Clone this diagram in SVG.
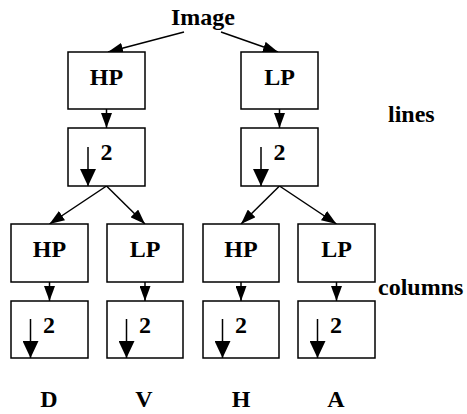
<svg xmlns="http://www.w3.org/2000/svg" width="467" height="414" viewBox="0 0 467 414">
  <style>
    .box { fill: #fff; stroke: #000; stroke-width: 1.5; }
    .lbl { font-family: "Liberation Serif", "Times New Roman", "DejaVu Serif", serif; font-weight: bold; font-size: 24px; fill: #000; }
    .mid { text-anchor: middle; }
    .edge { fill: none; stroke: #000; stroke-width: 1.5; marker-end: url(#arrow); }
    .down { fill: none; stroke: #000; stroke-width: 1.5; marker-end: url(#bigArrow); }
  </style>
  <defs>
    <marker id="arrow" markerUnits="userSpaceOnUse" markerWidth="15" markerHeight="11" refX="15" refY="5.5" orient="auto">
      <path d="M0,0 L15,5.5 L0,11 z" fill="#000"/>
    </marker>
    <marker id="bigArrow" markerUnits="userSpaceOnUse" markerWidth="17" markerHeight="16" refX="17" refY="8" orient="auto">
      <path d="M0,0 L17,8 L0,16 z" fill="#000"/>
    </marker>
  </defs>

  <rect width="467" height="414" fill="#fff"/>

  <!-- connectors -->
  <g id="connectors">
    <line class="edge" x1="184" y1="32" x2="108" y2="52"/>
    <line class="edge" x1="221" y1="32" x2="278" y2="52"/>
    <line class="edge" x1="106.5" y1="109" x2="106.5" y2="128"/>
    <line class="edge" x1="279.5" y1="109" x2="279.5" y2="128"/>
    <line class="edge" x1="106.5" y1="186" x2="49.5" y2="224"/>
    <line class="edge" x1="106.5" y1="186" x2="145" y2="224"/>
    <line class="edge" x1="279.5" y1="186" x2="241" y2="224"/>
    <line class="edge" x1="279.5" y1="186" x2="336.5" y2="224"/>
    <line class="edge" x1="49.5" y1="282" x2="49.5" y2="301"/>
    <line class="edge" x1="145" y1="282" x2="145" y2="301"/>
    <line class="edge" x1="241" y1="282" x2="241" y2="301"/>
    <line class="edge" x1="336.5" y1="282" x2="336.5" y2="301"/>
  </g>

  <g id="image"><text class="lbl mid" x="203" y="25">Image</text></g>

  <!-- first stage: filtering along lines -->
  <g id="hp-lines"><rect class="box" x="68" y="52" width="77" height="57"/><text class="lbl mid" x="106.5" y="85">HP</text></g>
  <g id="lp-lines"><rect class="box" x="241" y="52" width="77" height="57"/><text class="lbl mid" x="279.5" y="85">LP</text></g>

  <g id="ds-lines-hp"><rect class="box" x="68" y="128" width="77" height="58"/><line class="down" x1="88" y1="147" x2="88" y2="186"/><text class="lbl" x="100.5" y="160">2</text></g>
  <g id="ds-lines-lp"><rect class="box" x="241" y="128" width="77" height="58"/><line class="down" x1="261" y1="147" x2="261" y2="186"/><text class="lbl" x="273.5" y="160">2</text></g>

  <g id="label-lines"><text class="lbl" x="388" y="122">lines</text></g>

  <!-- second stage: filtering along columns -->
  <g id="hp-hp"><rect class="box" x="11" y="224" width="77" height="58"/><text class="lbl mid" x="49.5" y="257">HP</text></g>
  <g id="hp-lp"><rect class="box" x="107" y="224" width="76" height="58"/><text class="lbl mid" x="145" y="257">LP</text></g>
  <g id="lp-hp"><rect class="box" x="203" y="224" width="76" height="58"/><text class="lbl mid" x="241" y="257">HP</text></g>
  <g id="lp-lp"><rect class="box" x="298" y="224" width="77" height="58"/><text class="lbl mid" x="336.5" y="257">LP</text></g>

  <g id="label-columns"><text class="lbl" x="378" y="295">columns</text></g>

  <g id="ds-d"><rect class="box" x="11" y="301" width="77" height="57"/><line class="down" x1="30.5" y1="319" x2="30.5" y2="358"/><text class="lbl" x="43" y="333">2</text></g>
  <g id="ds-v"><rect class="box" x="107" y="301" width="76" height="57"/><line class="down" x1="126.5" y1="319" x2="126.5" y2="358"/><text class="lbl" x="139" y="333">2</text></g>
  <g id="ds-h"><rect class="box" x="203" y="301" width="76" height="57"/><line class="down" x1="222.5" y1="319" x2="222.5" y2="358"/><text class="lbl" x="235" y="333">2</text></g>
  <g id="ds-a"><rect class="box" x="298" y="301" width="77" height="57"/><line class="down" x1="317.5" y1="319" x2="317.5" y2="358"/><text class="lbl" x="330" y="333">2</text></g>

  <!-- subband outputs -->
  <g id="out-d"><text class="lbl mid" x="49" y="407">D</text></g>
  <g id="out-v"><text class="lbl mid" x="144" y="407">V</text></g>
  <g id="out-h"><text class="lbl mid" x="241" y="407">H</text></g>
  <g id="out-a"><text class="lbl mid" x="336" y="407">A</text></g>
</svg>
